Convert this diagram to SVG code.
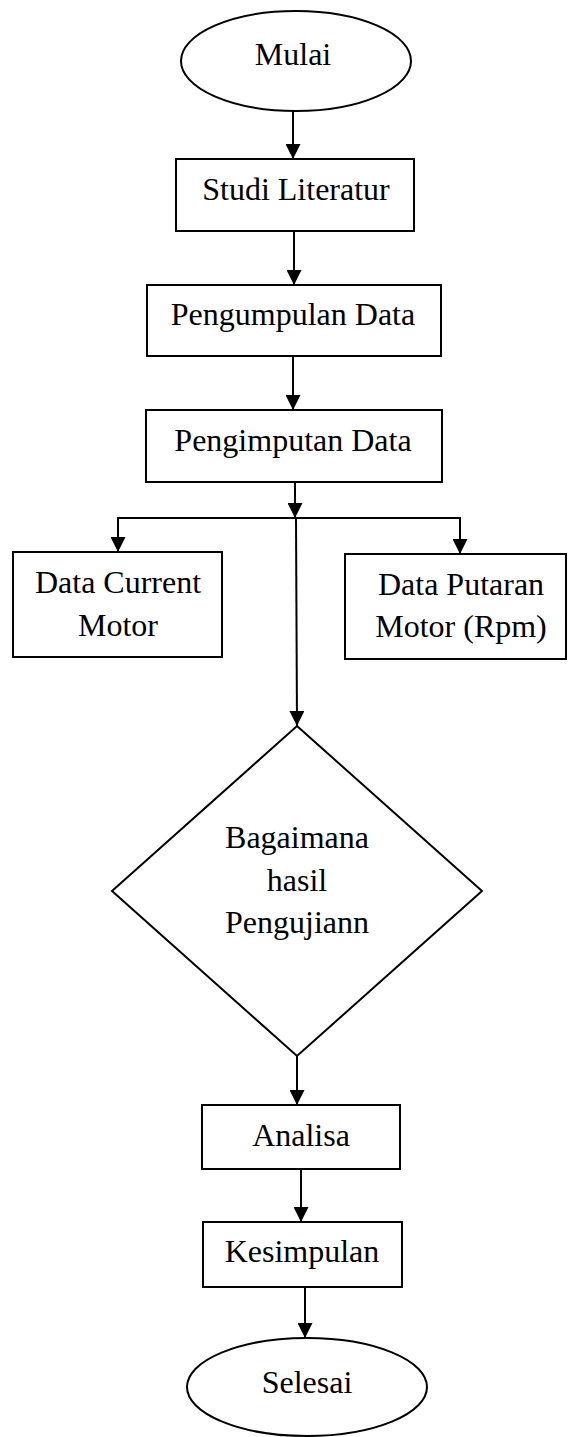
<svg xmlns="http://www.w3.org/2000/svg" width="568" height="1437" viewBox="0 0 568 1437">
<style>
.s{fill:#fff;stroke:#000;stroke-width:2}
.t{font-family:"Liberation Serif","Times New Roman",serif;font-size:32px;fill:#000;text-anchor:middle}
.c{fill:none;stroke:#000;stroke-width:2}
</style>
<defs>
<marker id="ah" markerUnits="userSpaceOnUse" markerWidth="15" markerHeight="15" refX="15" refY="7.5" orient="auto">
<path d="M0,0 L15,7.5 L0,15 z" fill="#000"/>
</marker>
</defs>
<rect width="568" height="1437" fill="#fff"/>
<g id="connectors">
<line class="c" x1="293" y1="111" x2="293" y2="159" marker-end="url(#ah)"/>
<line class="c" x1="294" y1="231" x2="294" y2="285" marker-end="url(#ah)"/>
<line class="c" x1="293" y1="356" x2="293" y2="410" marker-end="url(#ah)"/>
<line class="c" x1="295" y1="482" x2="295" y2="518" marker-end="url(#ah)"/>
<polyline class="c" points="118,552 118,518 460,518 460,554"/>
<line class="c" x1="118" y1="530" x2="118" y2="552" marker-end="url(#ah)"/>
<line class="c" x1="460" y1="530" x2="460" y2="554" marker-end="url(#ah)"/>
<line class="c" x1="296" y1="518" x2="297" y2="726" marker-end="url(#ah)"/>
<line class="c" x1="297" y1="1056" x2="297" y2="1105" marker-end="url(#ah)"/>
<line class="c" x1="301" y1="1169" x2="301" y2="1222" marker-end="url(#ah)"/>
<line class="c" x1="305" y1="1287" x2="305" y2="1338" marker-end="url(#ah)"/>
</g>
<g id="mulai">
<ellipse class="s" cx="296" cy="61" rx="115" ry="50"/>
<text class="t" x="293" y="65">Mulai</text>
</g>
<g id="studi">
<rect class="s" x="176" y="159" width="238" height="72"/>
<text class="t" x="296" y="200">Studi Literatur</text>
</g>
<g id="pengumpulan">
<rect class="s" x="147" y="285" width="294" height="71"/>
<text class="t" x="293" y="325">Pengumpulan Data</text>
</g>
<g id="pengimputan">
<rect class="s" x="146" y="410" width="296" height="72"/>
<text class="t" x="293" y="451">Pengimputan Data</text>
</g>
<g id="current">
<rect class="s" x="13" y="552" width="209" height="105"/>
<text class="t" x="118" y="593">Data Current</text>
<text class="t" x="118" y="636">Motor</text>
</g>
<g id="putaran">
<rect class="s" x="345" y="554" width="221" height="105"/>
<text class="t" x="461" y="595">Data Putaran</text>
<text class="t" x="461" y="637">Motor (Rpm)</text>
</g>
<g id="decision">
<polygon class="s" points="297,726 482,891 297,1056 112,891"/>
<text class="t" x="297" y="848">Bagaimana</text>
<text class="t" x="297" y="891">hasil</text>
<text class="t" x="297" y="933">Pengujiann</text>
</g>
<g id="analisa">
<rect class="s" x="202" y="1105" width="198" height="64"/>
<text class="t" x="301" y="1146">Analisa</text>
</g>
<g id="kesimpulan">
<rect class="s" x="203" y="1222" width="199" height="65"/>
<text class="t" x="302" y="1262">Kesimpulan</text>
</g>
<g id="selesai">
<ellipse class="s" cx="307" cy="1387" rx="120" ry="49"/>
<text class="t" x="307" y="1393">Selesai</text>
</g>
</svg>
